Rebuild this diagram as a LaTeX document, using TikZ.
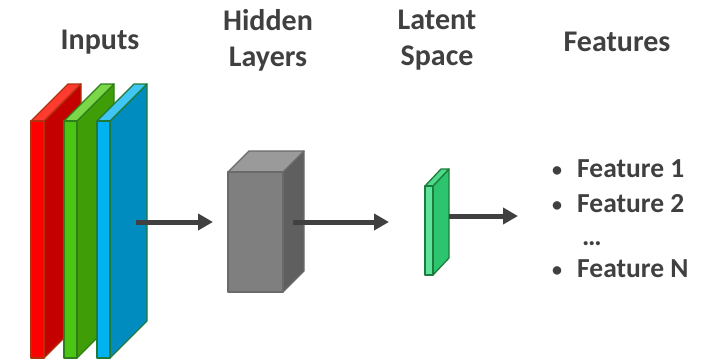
\documentclass[tikz,border=0pt]{standalone}
\usepackage{fontspec}
\setmainfont{Carlito}
\usetikzlibrary{arrows.meta}
\definecolor{txt}{HTML}{404040}
\definecolor{arr}{HTML}{404040}
\definecolor{redF}{HTML}{FF0000}\definecolor{redS}{HTML}{C40000}\definecolor{redT}{HTML}{FF3B30}\definecolor{redE}{HTML}{B0300F}
\definecolor{grnF}{HTML}{4CC414}\definecolor{grnS}{HTML}{3F9E08}\definecolor{grnT}{HTML}{7BD648}\definecolor{grnE}{HTML}{2D7F1A}
\definecolor{bluF}{HTML}{00B2F0}\definecolor{bluS}{HTML}{008CBE}\definecolor{bluT}{HTML}{40C6F4}\definecolor{bluE}{HTML}{1F7A3A}
\definecolor{gryF}{HTML}{7F7F7F}\definecolor{gryS}{HTML}{5F5F5F}\definecolor{gryT}{HTML}{9A9A9A}\definecolor{gryE}{HTML}{6A6A6A}
\definecolor{latF}{HTML}{5EE39C}\definecolor{latS}{HTML}{2DC46E}\definecolor{latT}{HTML}{4CD98A}\definecolor{latE}{HTML}{1E7B3C}
\tikzset{
  title/.style={text=txt, font=\fontsize{30}{36}\selectfont\bfseries, align=center},
  item/.style={text=txt, font=\fontsize{27.5}{30}\selectfont\bfseries, anchor=base west, inner sep=0pt},
  bul/.style={text=txt, font=\fontsize{20}{24}\selectfont\bfseries, anchor=base, inner sep=0pt},
  flow/.style={draw=arr, line width=5pt, -{Triangle[length=15pt,width=16pt]}},
  face/.style={line width=1.3pt, line join=round}
}
\begin{document}
\begin{tikzpicture}[x=1pt,y=-1pt]
\useasboundingbox (0,0) rectangle (711,361);
% inputs slabs
\foreach \x/\c in {31/red,64/grn,97/blu}{
  \filldraw[face, fill=\c S, draw=\c E] (\x+13,121) -- (\x+50,84) -- (\x+50,321) -- (\x+13,358) -- cycle;
  \filldraw[face, fill=\c T, draw=\c E] (\x,121) -- (\x+37,84) -- (\x+50,84) -- (\x+13,121) -- cycle;
  \filldraw[face, fill=\c F, draw=\c E] (\x,121) rectangle (\x+13,358);
}
% hidden box
\filldraw[face, fill=gryS, draw=gryE] (283,172) -- (304,151) -- (304,271) -- (283,292) -- cycle;
\filldraw[face, fill=gryT, draw=gryE] (228,172) -- (249,151) -- (304,151) -- (283,172) -- cycle;
\filldraw[face, fill=gryF, draw=gryE] (228,172) rectangle (283,292);
% latent slab
\filldraw[face, fill=latS, draw=latE] (433,186) -- (449,169) -- (449,258) -- (433,275) -- cycle;
\filldraw[face, fill=latT, draw=latE] (425,186) -- (441,169) -- (449,169) -- (433,186) -- cycle;
\filldraw[face, fill=latF, draw=latE] (425,186) rectangle (433,275);
% arrow coordinates
\coordinate (a1s) at (136,222); \coordinate (a1e) at (213,222);
\coordinate (a2s) at (293,222); \coordinate (a2e) at (389,222);
\coordinate (a3s) at (449,216); \coordinate (a3e) at (518,216);
\draw[flow] (a1s) -- (a1e);
\draw[flow] (a2s) -- (a2e);
\draw[flow] (a3s) -- (a3e);
% titles
\node[title] (tin) at (100,42) {Inputs};
\node[title] (thid) at (268,40) {Hidden\\Layers};
\node[title] (tlat) at (437,40) {Latent\\Space};
\node[title] (tfeat) at (617,42) {Features};
% features list
\node[bul] (b1) at (557,176) {•};
\node[item] (f1) at (577,177) {Feature 1};
\node[bul] (b2) at (557,211) {•};
\node[item] (f2) at (577,212) {Feature 2};
\node[item] (fd) at (582,245) {…};
\node[bul] (b3) at (557,276) {•};
\node[item] (f3) at (577,277) {Feature N};
\end{tikzpicture}
\end{document}
